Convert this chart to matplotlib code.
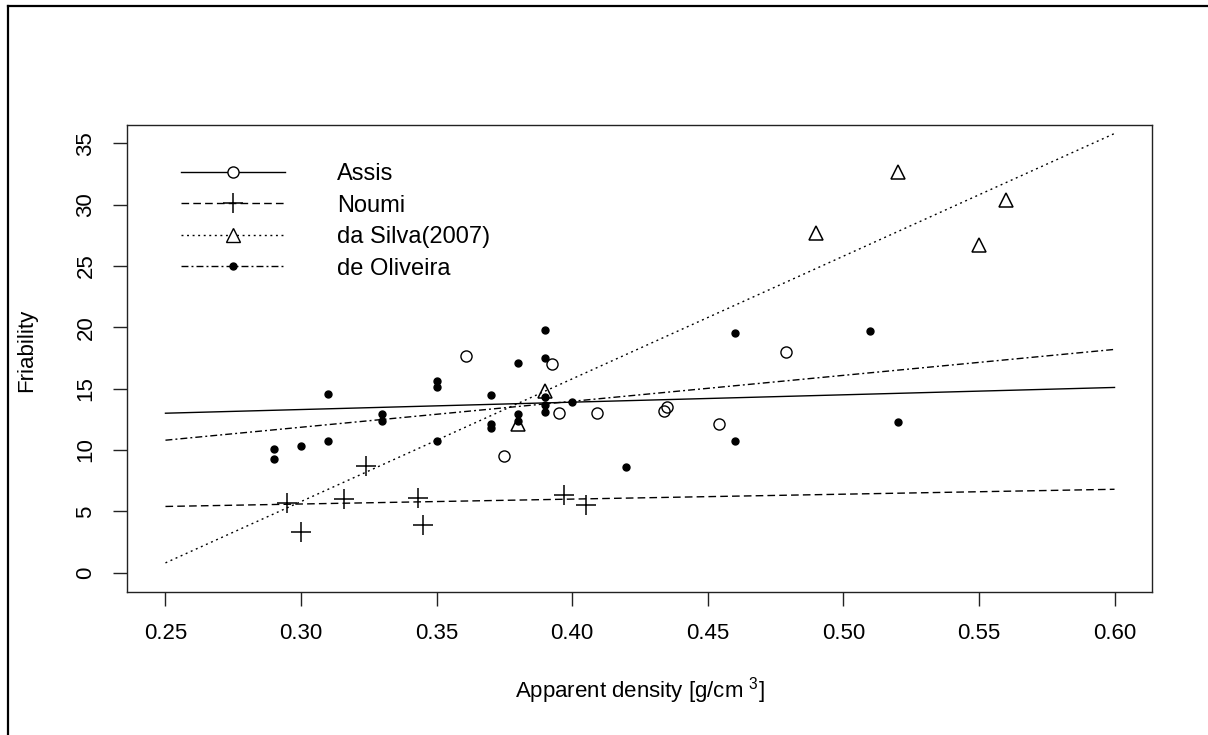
import matplotlib
matplotlib.use("Agg")
import matplotlib.pyplot as plt
from matplotlib.lines import Line2D
import numpy as np

plt.rcParams['font.family'] = ['Liberation Sans', 'DejaVu Sans']
plt.rcParams['mathtext.fontset'] = 'custom'
plt.rcParams['mathtext.rm'] = 'Liberation Sans'
plt.rcParams['lines.scale_dashes'] = False

# measured friability vs apparent density, per source
assis_x = [0.361, 0.3925, 0.395, 0.409, 0.434, 0.435, 0.375, 0.479, 0.454]
assis_y = [17.7, 17.0, 13.0, 13.0, 13.2, 13.5, 9.5, 18.0, 12.1]

noumi_x = [0.295, 0.300, 0.316, 0.324, 0.343, 0.345, 0.397, 0.405]
noumi_y = [5.7, 3.3, 6.0, 8.7, 6.1, 3.9, 6.3, 5.5]

silva_x = [0.38, 0.39, 0.49, 0.52, 0.55, 0.56]
silva_y = [12.1, 14.8, 27.7, 32.7, 26.7, 30.4]

oliveira_x = [0.29, 0.29, 0.30, 0.31, 0.31, 0.33, 0.33, 0.35, 0.35, 0.35,
              0.37, 0.37, 0.37, 0.38, 0.38, 0.38, 0.39, 0.39, 0.39, 0.39,
              0.39, 0.40, 0.42, 0.46, 0.46, 0.51, 0.52]
oliveira_y = [10.1, 9.3, 10.3, 14.6, 10.7, 12.9, 12.4, 15.6, 15.1, 10.7,
              14.5, 12.1, 11.8, 17.1, 12.9, 12.4, 19.8, 17.5, 14.3, 13.7,
              13.1, 13.9, 8.6, 19.5, 10.7, 19.7, 12.3]

# regression lines, value at each end of the density range
fit_x = [0.25, 0.60]
assis_fit = [13.0, 15.1]
noumi_fit = [5.4, 6.8]
silva_fit = [0.8, 35.8]
oliveira_fit = [10.8, 18.2]

labels = ["Assis", "Noumi", "da Silva(2007)", "de Oliveira"]
x_ticks = [0.25, 0.30, 0.35, 0.40, 0.45, 0.50, 0.55, 0.60]
y_ticks = [0, 5, 10, 15, 20, 25, 30, 35]

dashed = (0, (5.5, 3.0))
dotted = (0, (1.4, 2.6))
dotdash = (0, (5.0, 2.2, 1.4, 2.2))

fig = plt.figure(figsize=(12.08, 7.35), dpi=100)
ax = fig.add_axes([0.1051, 0.1946, 0.9536 - 0.1051, 0.8299 - 0.1946])

ax.plot(assis_x, assis_y, 'o', mfc='none', mec='black', ms=8, mew=1)
ax.plot(noumi_x, noumi_y, '+', color='black', ms=14, mew=1.1)
ax.plot(silva_x, silva_y, '^', mfc='none', mec='black', ms=10, mew=1.1)
ax.plot(oliveira_x, oliveira_y, 'o', color='black', ms=5)

ax.plot(fit_x, assis_fit, color='black', lw=1)
ax.plot(fit_x, noumi_fit, color='black', lw=1, linestyle=dashed)
ax.plot(fit_x, silva_fit, color='black', lw=1, linestyle=dotted)
ax.plot(fit_x, oliveira_fit, color='black', lw=1, linestyle=dotdash)

ax.set_xlim(0.2358, 0.6138)
ax.set_ylim(-1.57, 36.49)
ax.set_xticks(x_ticks)
ax.set_xticklabels([f"{t:.2f}" for t in x_ticks])
ax.set_yticks(y_ticks)
ax.set_yticklabels([str(t) for t in y_ticks], rotation=90, va='center')
ax.tick_params(axis='both', length=10, width=1, color='#222222',
               labelsize=16, pad=12)

for s in ax.spines.values():
    s.set_linewidth(1)
    s.set_color('#222222')

ax.set_xlabel(r"Apparent density [g/cm $^{3}$]", fontsize=16)
ax.xaxis.set_label_coords(0.5, -0.212)
ax.xaxis.label.set_va('center')
ax.set_ylabel("Friability", fontsize=16)
ax.yaxis.set_label_coords(-0.0976, 0.518)
ax.yaxis.label.set_va('center')

handles = [
    Line2D([], [], color='black', lw=1, marker='o', mfc='white', mec='black', ms=8),
    Line2D([], [], color='black', lw=1, linestyle=dashed, marker='+', ms=14, mew=1.1),
    Line2D([], [], color='black', lw=1, linestyle=dotted, marker='^', mfc='white', mec='black', ms=10),
    Line2D([], [], color='black', lw=1, linestyle=dotdash, marker='o', ms=5),
]
ax.legend(handles, labels, loc='upper left', bbox_to_anchor=(0.0527, 0.918),
          frameon=False, fontsize=17, handlelength=4.4, handletextpad=2.2,
          labelspacing=0.4, borderpad=0, borderaxespad=0)

# outer frame on the left and top edges
fig.add_artist(Line2D([8 / 1208, 8 / 1208], [0, 1 - 6 / 735], color='black', lw=1.6,
                      transform=fig.transFigure))
fig.add_artist(Line2D([8 / 1208, 1], [1 - 6 / 735, 1 - 6 / 735], color='black', lw=1.6,
                      transform=fig.transFigure))

fig.savefig("out.png", dpi=100)
